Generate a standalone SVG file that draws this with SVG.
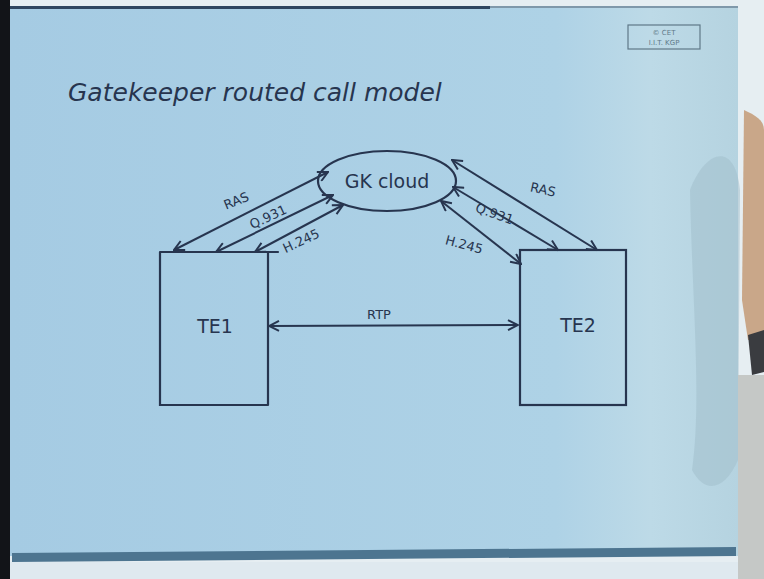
<svg xmlns="http://www.w3.org/2000/svg" width="764" height="579" viewBox="0 0 764 579">
<defs>
  <linearGradient id="board" x1="0" y1="0" x2="1" y2="0">
    <stop offset="0" stop-color="#a5cbe3"/>
    <stop offset="0.75" stop-color="#aed2e6"/>
    <stop offset="0.88" stop-color="#bddae7"/>
    <stop offset="1" stop-color="#b5d3e0"/>
  </linearGradient>
  <marker id="ah" viewBox="0 0 12 12" refX="11" refY="6" markerWidth="12" markerHeight="12" markerUnits="userSpaceOnUse" orient="auto-start-reverse">
    <path d="M1,1 L11,6 L1,11" fill="none" stroke="#27354f" stroke-width="2"/>
  </marker>
  <style>
    .ink{stroke:#27354f;stroke-width:2.2;fill:none;stroke-linecap:round}
    .conn{stroke:#27354f;stroke-width:2;fill:none;marker-start:url(#ah);marker-end:url(#ah)}
    .t{font-family:"DejaVu Sans","Liberation Sans",sans-serif;fill:#27354f}
    .lbl{font-size:13px}
    .big{font-size:19px}
  </style>
</defs>
<!-- background photo elements -->
<rect x="0" y="0" width="764" height="579" fill="#e6eef2"/>
<rect x="10" y="8" width="728" height="548" fill="url(#board)"/>
<path d="M744,110 C755,115 764,120 764,130 L764,340 L748,340 L742,300 Z" fill="#c9a789"/>
<path d="M748,335 L764,330 L764,372 L752,375 Z" fill="#3a3c40"/>
<path d="M690,190 C705,150 735,140 740,190 L738,460 C725,490 705,495 692,470 C702,400 692,300 690,190 Z" fill="#a3bfcc" opacity="0.55"/>
<rect x="738" y="375" width="26" height="204" fill="#c5c8c6"/>
<rect x="0" y="0" width="10" height="579" fill="#121418"/>
<rect x="10" y="6" width="480" height="3" fill="#2f4660"/>
<rect x="490" y="6" width="248" height="2" fill="#7f98aa"/>
<path d="M12,553 L736,547 L736,556 L12,562 Z" fill="#4d7590"/>
<rect x="10" y="562" width="728" height="17" fill="#dfe9ef"/>
<!-- logo -->
<g id="logo">
  <rect x="628" y="25" width="72" height="24" fill="none" stroke="#5f7888" stroke-width="1.2"/>
  <text x="664" y="35" text-anchor="middle" class="t" style="font-size:7px;fill:#5f7888">© CET</text>
  <text x="664" y="45" text-anchor="middle" class="t" style="font-size:7px;fill:#5f7888">I.I.T. KGP</text>
</g>
<!-- title -->
<text id="title" x="68" y="101" class="t" style="font-size:25px;font-style:italic">Gatekeeper routed call model</text>
<!-- nodes -->
<g id="gk">
  <ellipse cx="387" cy="181" rx="69" ry="30" class="ink"/>
  <text x="387" y="188" text-anchor="middle" class="t big">GK cloud</text>
</g>
<g id="te1">
  <path d="M160,252 L278,252 M160,252 L160,405 L268,405 M268,252 L268,405" class="ink"/>
  <text x="215" y="333" text-anchor="middle" class="t big">TE1</text>
</g>
<g id="te2">
  <rect x="520" y="250" width="106" height="155" class="ink"/>
  <text x="578" y="332" text-anchor="middle" class="t big">TE2</text>
</g>
<!-- connectors -->
<g id="connectors">
  <line x1="174" y1="250" x2="328" y2="172" class="conn"/>
  <line x1="216" y1="252" x2="333" y2="195" class="conn"/>
  <line x1="255" y1="252" x2="343" y2="205" class="conn"/>
  <line x1="452" y1="160" x2="597" y2="250" class="conn"/>
  <line x1="453" y1="187" x2="558" y2="250" class="conn"/>
  <line x1="441" y1="201" x2="521" y2="264" class="conn"/>
  <line x1="269" y1="326" x2="518" y2="325" class="conn"/>
</g>
<!-- connector labels -->
<g id="labels">
  <text transform="translate(238,205) rotate(-22)" text-anchor="middle" class="t lbl">RAS</text>
  <text transform="translate(270,221) rotate(-25)" text-anchor="middle" class="t lbl">Q.931</text>
  <text transform="translate(303,245) rotate(-25)" text-anchor="middle" class="t lbl">H.245</text>
  <text transform="translate(542,194) rotate(12)" text-anchor="middle" class="t lbl">RAS</text>
  <text transform="translate(493,218) rotate(20)" text-anchor="middle" class="t lbl">Q.931</text>
  <text transform="translate(463,249) rotate(15)" text-anchor="middle" class="t lbl">H.245</text>
  <text x="379" y="319" text-anchor="middle" class="t lbl">RTP</text>
</g>
</svg>
